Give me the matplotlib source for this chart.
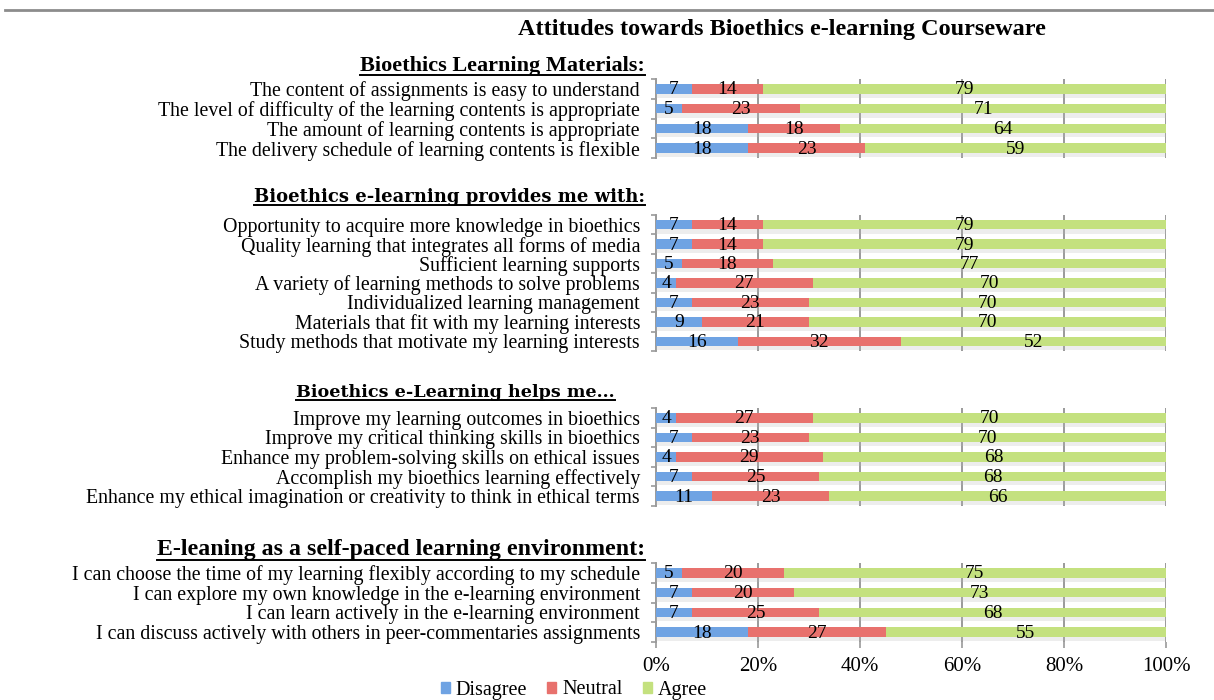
import numpy as np
import matplotlib
matplotlib.use("Agg")
import matplotlib.pyplot as plt
from matplotlib.lines import Line2D
from matplotlib.patches import Patch
import matplotlib.patheffects as pe

# --- data ---
labels_1 = [
    "The content of assignments is easy to understand",
    "The level of difficulty of the learning contents is appropriate",
    "The amount of learning contents is appropriate",
    "The delivery schedule of learning contents is flexible",
]
disagree_1 = [7, 5, 18, 18]
neutral_1 = [14, 23, 18, 23]
agree_1 = [79, 71, 64, 59]

labels_2 = [
    "Opportunity to acquire more knowledge in bioethics",
    "Quality learning that integrates all forms of media",
    "Sufficient learning supports",
    "A variety of learning methods to solve problems",
    "Individualized learning management",
    "Materials that fit with my learning interests",
    "Study methods that motivate my learning interests",
]
disagree_2 = [7, 7, 5, 4, 7, 9, 16]
neutral_2 = [14, 14, 18, 27, 23, 21, 32]
agree_2 = [79, 79, 77, 70, 70, 70, 52]

labels_3 = [
    "Improve my learning outcomes in bioethics",
    "Improve my critical thinking skills in bioethics",
    "Enhance my problem-solving skills on ethical issues",
    "Accomplish my bioethics learning effectively",
    "Enhance my ethical imagination or creativity to think in ethical terms",
]
disagree_3 = [4, 7, 4, 7, 11]
neutral_3 = [27, 23, 29, 25, 23]
agree_3 = [70, 70, 68, 68, 66]

labels_4 = [
    "I can choose the time of my learning flexibly according to my schedule",
    "I can explore my own knowledge in the e-learning environment",
    "I can learn actively in the e-learning environment",
    "I can discuss actively with others in peer-commentaries assignments",
]
disagree_4 = [5, 7, 7, 18]
neutral_4 = [20, 20, 25, 27]
agree_4 = [75, 73, 68, 55]

series_names = ["Disagree", "Neutral", "Agree"]
x_ticks = [0, 20, 40, 60, 80, 100]
x_tick_labels = ["0%", "20%", "40%", "60%", "80%", "100%"]

title = "Attitudes towards Bioethics e-learning Courseware"
headers = [
    "Bioethics Learning Materials:",
    "Bioethics e-learning provides me with:",
    "Bioethics e-Learning helps me...",
    "E-leaning as a self-paced learning environment:",
]

# --- style / layout ---
W, H = 1214, 700
colors = ["#6fa3e3", "#e8716d", "#c4e17f"]
serif = "Liberation Serif"
grid_col = "#9a9a9a"

# (top px, bottom px, header y px, header right px, header font, header size)
sections = [
    (labels_1, disagree_1, neutral_1, agree_1, 79, 158, 66, 645, serif, 16),
    (labels_2, disagree_2, neutral_2, agree_2, 215, 351, 197, 645, "DejaVu Serif", 13),
    (labels_3, disagree_3, neutral_3, agree_3, 408, 506, 392, 615, "DejaVu Serif", 12.6),
    (labels_4, disagree_4, neutral_4, agree_4, 563, 642, 550, 645, serif, 17.2),
]

x_left, x_right = 656, 1166

fig = plt.figure(figsize=(W / 100, H / 100), dpi=100)
fig.add_artist(Line2D([5 / W, 1], [1 - 10 / H] * 2, color="#8c8c8c", lw=2))
fig.text(782 / W, 1 - 30 / H, title, ha="center", va="center",
         fontsize=17.5, fontweight="bold", family=serif)

header_texts = []
for i, (labels, d, n, a, top, bot, hy, hx, hfont, hsize) in enumerate(sections):
    ax = fig.add_axes([x_left / W, 1 - bot / H, (x_right - x_left) / W, (bot - top) / H])
    vals = np.array([d, n, a], dtype=float)
    pct = vals / vals.sum(axis=0) * 100
    y = np.arange(len(labels))
    left = np.zeros(len(labels))
    for k in range(3):
        bars = ax.barh(y, pct[k], left=left, height=0.48, color=colors[k],
                       zorder=3)
        for b in bars:
            b.set_path_effects([pe.SimplePatchShadow(offset=(0, -3), shadow_rgbFace="#bbbbbb",
                                                     alpha=0.25), pe.Normal()])
        for yy, l, w, v in zip(y, left, pct[k], vals[k]):
            ax.text(l + w / 2, yy + 0.05, f"{v:.0f}", ha="center", va="center",
                    fontsize=14, family=serif, zorder=4)
        left = left + pct[k]

    ax.set_xlim(0, 100)
    ax.set_ylim(len(labels) - 0.5, -0.5)
    ax.set_yticks(y)
    ax.set_yticklabels(labels, fontsize=14.3, family=serif)
    ax.tick_params(axis="y", which="major", length=0, pad=11.5)
    ax.set_yticks(np.arange(-0.5, len(labels)), minor=True)
    ax.tick_params(axis="y", which="minor", length=3.5, width=1.2, color=grid_col, direction="out")
    ax.set_xticks(x_ticks)
    ax.grid(axis="x", color=grid_col, lw=1.4, zorder=0)
    ax.set_axisbelow(True)
    for s in ["top", "right", "bottom"]:
        ax.spines[s].set_visible(False)
    ax.spines["left"].set_color(grid_col)
    ax.spines["left"].set_linewidth(1.4)
    if i == len(sections) - 1:
        ax.set_xticklabels(x_tick_labels, fontsize=15, family=serif)
        ax.tick_params(axis="x", length=4.5, width=1.2, color=grid_col, pad=6)
    else:
        ax.tick_params(axis="x", length=0, labelbottom=False)

    t = fig.text(hx / W, 1 - hy / H, headers[i], ha="right", va="center",
                 fontsize=hsize, fontweight="bold", family=hfont)
    header_texts.append(t)

handles = [Patch(color=c) for c in colors]
fig.legend(handles, series_names, loc="center", bbox_to_anchor=(574 / W, 1 - 690 / H),
           ncol=3, frameon=False, handlelength=0.45, handleheight=0.45,
           handletextpad=0.3, columnspacing=1.0, prop={"family": serif, "size": 14.5})

# underline the section headers
fig.canvas.draw()
renderer = fig.canvas.get_renderer()
for t in header_texts:
    bb = t.get_window_extent(renderer)
    yl = (bb.y0 + 1) / H
    fig.add_artist(Line2D([bb.x0 / W, bb.x1 / W], [yl, yl], color="black", lw=1.4))

fig.savefig("out.png", dpi=100)
